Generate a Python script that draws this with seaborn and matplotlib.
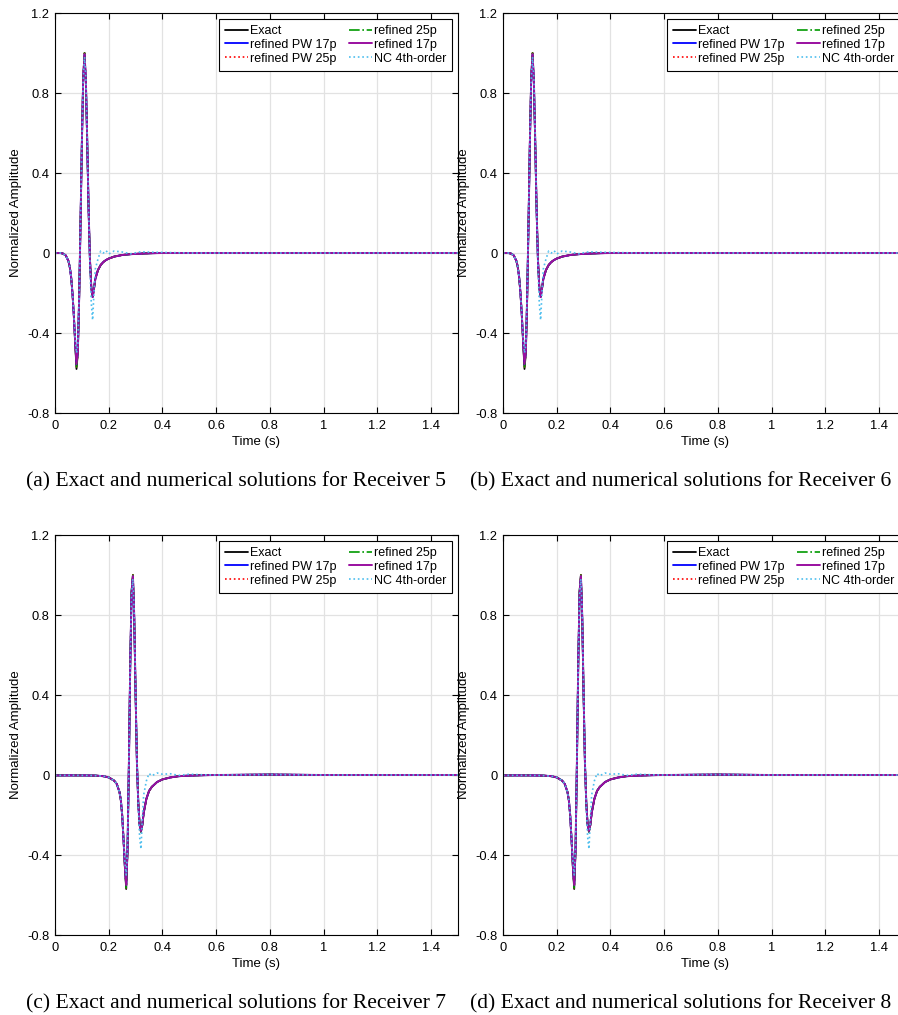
import numpy as np
import pandas as pd
import matplotlib
matplotlib.use("Agg")
import matplotlib.pyplot as plt
import seaborn as sns
from matplotlib.ticker import FuncFormatter

# ---------------- data ----------------
t_top = [0, 0.02, 0.03, 0.04, 0.05, 0.055, 0.06, 0.065, 0.07, 0.075, 0.08, 0.085, 0.09, 0.095,
         0.10, 0.105, 0.11, 0.115, 0.12, 0.125, 0.13, 0.135, 0.14, 0.145, 0.15, 0.16, 0.17, 0.18,
         0.19, 0.20, 0.22, 0.25, 0.28, 0.32, 0.36, 0.40, 0.5, 0.7, 1.0, 1.5]
exact_top = [0, 0, -0.003, -0.012, -0.04, -0.07, -0.12, -0.2, -0.31, -0.45, -0.58, -0.5, -0.22, 0.15,
             0.55, 0.88, 1.0, 0.85, 0.55, 0.22, -0.03, -0.17, -0.22, -0.18, -0.13, -0.085, -0.06, -0.045,
             -0.035, -0.028, -0.018, -0.01, -0.006, -0.003, -0.001, 0, 0, 0, 0, 0]
pw17_top = [0, 0, -0.003, -0.012, -0.04, -0.07, -0.12, -0.2, -0.31, -0.44, -0.56, -0.49, -0.22, 0.15,
            0.55, 0.87, 0.99, 0.85, 0.55, 0.22, -0.03, -0.17, -0.22, -0.18, -0.13, -0.085, -0.06, -0.045,
            -0.035, -0.028, -0.018, -0.01, -0.006, -0.003, -0.001, 0, 0, 0, 0, 0]
pw25_top = [0, 0, -0.003, -0.012, -0.04, -0.07, -0.12, -0.2, -0.31, -0.45, -0.57, -0.5, -0.22, 0.15,
            0.55, 0.88, 1.0, 0.85, 0.55, 0.22, -0.03, -0.17, -0.22, -0.18, -0.13, -0.085, -0.06, -0.045,
            -0.035, -0.028, -0.018, -0.01, -0.006, -0.003, -0.001, 0, 0, 0, 0, 0]
r25_top = [0, 0, -0.003, -0.012, -0.04, -0.07, -0.12, -0.2, -0.31, -0.45, -0.57, -0.5, -0.22, 0.15,
           0.55, 0.88, 1.0, 0.85, 0.55, 0.22, -0.03, -0.17, -0.22, -0.18, -0.13, -0.085, -0.06, -0.045,
           -0.035, -0.028, -0.018, -0.01, -0.006, -0.003, -0.001, 0, 0, 0, 0, 0]
r17_top = [0, 0, -0.003, -0.012, -0.04, -0.07, -0.12, -0.2, -0.31, -0.44, -0.555, -0.49, -0.22, 0.15,
           0.55, 0.87, 0.995, 0.86, 0.56, 0.22, -0.03, -0.17, -0.22, -0.18, -0.13, -0.085, -0.06, -0.045,
           -0.035, -0.028, -0.018, -0.01, -0.006, -0.003, -0.001, 0, 0, 0, 0, 0]
nc_top = [0, 0, -0.003, -0.012, -0.04, -0.07, -0.12, -0.2, -0.3, -0.42, -0.5, -0.46, -0.2, 0.16,
          0.55, 0.86, 0.98, 0.87, 0.58, 0.22, -0.06, -0.25, -0.335, -0.2, -0.08, -0.03, 0.01, 0.0,
          0.012, -0.005, 0.01, 0.005, -0.004, 0.006, 0.004, 0.003, 0, 0, 0, 0]

t_bot = [0, 0.1, 0.15, 0.18, 0.2, 0.22, 0.23, 0.24, 0.245, 0.25, 0.255, 0.26, 0.265, 0.27, 0.275,
         0.28, 0.285, 0.29, 0.295, 0.30, 0.305, 0.31, 0.315, 0.32, 0.325, 0.33, 0.34, 0.35, 0.36,
         0.38, 0.40, 0.43, 0.46, 0.5, 0.55, 0.6, 0.8, 1.0, 1.5]
exact_bot = [-0.002, -0.002, -0.003, -0.006, -0.012, -0.028, -0.045, -0.085, -0.125, -0.2, -0.32, -0.46,
             -0.57, -0.38, 0.05, 0.55, 0.92, 1.0, 0.78, 0.4, 0.06, -0.14, -0.25, -0.285, -0.25, -0.19,
             -0.12, -0.08, -0.06, -0.035, -0.022, -0.012, -0.006, -0.003, -0.001, 0, 0.002, 0, 0]
pw17_bot = [-0.002, -0.002, -0.003, -0.006, -0.012, -0.028, -0.045, -0.085, -0.125, -0.2, -0.32, -0.45,
            -0.555, -0.37, 0.05, 0.55, 0.91, 0.99, 0.78, 0.4, 0.06, -0.14, -0.25, -0.28, -0.25, -0.19,
            -0.12, -0.08, -0.06, -0.035, -0.022, -0.012, -0.006, -0.003, -0.001, 0, 0.002, 0, 0]
pw25_bot = [-0.002, -0.002, -0.003, -0.006, -0.012, -0.028, -0.045, -0.085, -0.125, -0.2, -0.32, -0.46,
            -0.565, -0.38, 0.05, 0.55, 0.92, 1.0, 0.78, 0.4, 0.06, -0.14, -0.25, -0.285, -0.25, -0.19,
            -0.12, -0.08, -0.06, -0.035, -0.022, -0.012, -0.006, -0.003, -0.001, 0, 0.002, 0, 0]
r25_bot = [-0.002, -0.002, -0.003, -0.006, -0.012, -0.028, -0.045, -0.085, -0.125, -0.2, -0.32, -0.46,
           -0.565, -0.38, 0.05, 0.55, 0.92, 1.0, 0.78, 0.4, 0.06, -0.14, -0.25, -0.285, -0.25, -0.19,
           -0.12, -0.08, -0.06, -0.035, -0.022, -0.012, -0.006, -0.003, -0.001, 0, 0.002, 0, 0]
r17_bot = [-0.002, -0.002, -0.003, -0.006, -0.012, -0.028, -0.045, -0.085, -0.125, -0.2, -0.32, -0.45,
           -0.55, -0.37, 0.05, 0.55, 0.91, 0.995, 0.79, 0.41, 0.06, -0.14, -0.25, -0.28, -0.25, -0.19,
           -0.12, -0.08, -0.06, -0.035, -0.022, -0.012, -0.006, -0.003, -0.001, 0, 0.002, 0, 0]
nc_bot = [-0.002, -0.002, -0.003, -0.006, -0.012, -0.028, -0.045, -0.085, -0.125, -0.2, -0.31, -0.43,
          -0.5, -0.36, 0.05, 0.54, 0.9, 0.98, 0.8, 0.43, 0.08, -0.16, -0.31, -0.37, -0.22, -0.1,
          -0.03, 0.008, -0.004, 0.01, 0.004, 0.006, -0.002, 0.004, 0.001, 0, 0.002, 0, 0]

series_names = ["Exact", "refined PW 17p", "refined PW 25p", "refined 25p", "refined 17p", "NC 4th-order"]
receivers = ["5", "6", "7", "8"]
panel_letters = ["(a)", "(b)", "(c)", "(d)"]
x_ticks = [0, 0.2, 0.4, 0.6, 0.8, 1.0, 1.2, 1.4]
y_ticks = [-0.8, -0.4, 0, 0.4, 0.8, 1.2]

top_data = [exact_top, pw17_top, pw25_top, r25_top, r17_top, nc_top]
bot_data = [exact_bot, pw17_bot, pw25_bot, r25_bot, r17_bot, nc_bot]
panel_data = [(t_top, top_data), (t_top, top_data), (t_bot, bot_data), (t_bot, bot_data)]

# ---------------- styles ----------------
colors = ["#000000", "#0000ff", "#ff0000", "#009900", "#9a0fa0", "#4dbeee"]
styles = ["-", "-", ":", "-.", "-", ":"]
widths = [1.3, 1.3, 1.2, 1.2, 1.4, 1.2]

sns.set_theme(style="ticks")
plt.rcParams["font.family"] = ["Liberation Sans", "DejaVu Sans"]
plt.rcParams["axes.edgecolor"] = "black"
plt.rcParams["axes.linewidth"] = 0.8
plt.rcParams["text.color"] = "black"
plt.rcParams["axes.labelcolor"] = "black"
plt.rcParams["xtick.color"] = "black"
plt.rcParams["ytick.color"] = "black"

W, H = 898, 1015
fig = plt.figure(figsize=(W / 100, H / 100), dpi=100)

ax_w, ax_h = 403, 400
lefts = [55, 503, 55, 503]
tops = [13, 13, 535, 535]
caption_x = [236, 681, 236, 681]

fmt = FuncFormatter(lambda v, p: "%g" % round(v, 2))

for i in range(4):
    l, tp = lefts[i], tops[i]
    ax = fig.add_axes([l / W, (H - tp - ax_h) / H, ax_w / W, ax_h / H])
    tt, dat = panel_data[i]
    for j, name in enumerate(series_names):
        df = pd.DataFrame({"t": tt, "a": dat[j]})
        sns.lineplot(data=df, x="t", y="a", ax=ax, color=colors[j], linestyle=styles[j],
                     linewidth=widths[j], label=name, estimator=None, sort=False)
    ax.set_xlim(0, 1.5)
    ax.set_ylim(-0.8, 1.2)
    ax.set_xticks(x_ticks)
    ax.set_yticks(y_ticks)
    ax.xaxis.set_major_formatter(fmt)
    ax.yaxis.set_major_formatter(fmt)
    ax.grid(True, color="#e2e2e2", linewidth=0.9)
    ax.set_axisbelow(True)
    ax.tick_params(direction="in", top=True, right=True, length=4, width=0.8,
                   labelsize=9.3, colors="black")
    ax.tick_params(axis="x", pad=5)
    ax.tick_params(axis="y", pad=4)
    for s in ax.spines.values():
        s.set_color("black")
        s.set_linewidth(0.8)
    ax.set_xlabel("Time (s)", fontsize=9.5, labelpad=3)
    ax.set_ylabel("Normalized Amplitude", fontsize=9.5, labelpad=4)
    leg = ax.legend(loc="upper right", ncol=2, fontsize=9, frameon=True, fancybox=False,
                    framealpha=1, edgecolor="black", handlelength=1.85, handletextpad=0.15,
                    columnspacing=1.0, labelspacing=0.15, borderpad=0.5, borderaxespad=0.45)
    leg.get_frame().set_linewidth(0.8)
    cy = (H - (tp + ax_h + 69)) / H
    fig.text(caption_x[i] / W, cy,
             f"{panel_letters[i]} Exact and numerical solutions for Receiver {receivers[i]}",
             ha="center", va="center", fontsize=15.6, color="black",
             family=["Liberation Serif", "DejaVu Serif"])

fig.savefig("out.png", dpi=100)
